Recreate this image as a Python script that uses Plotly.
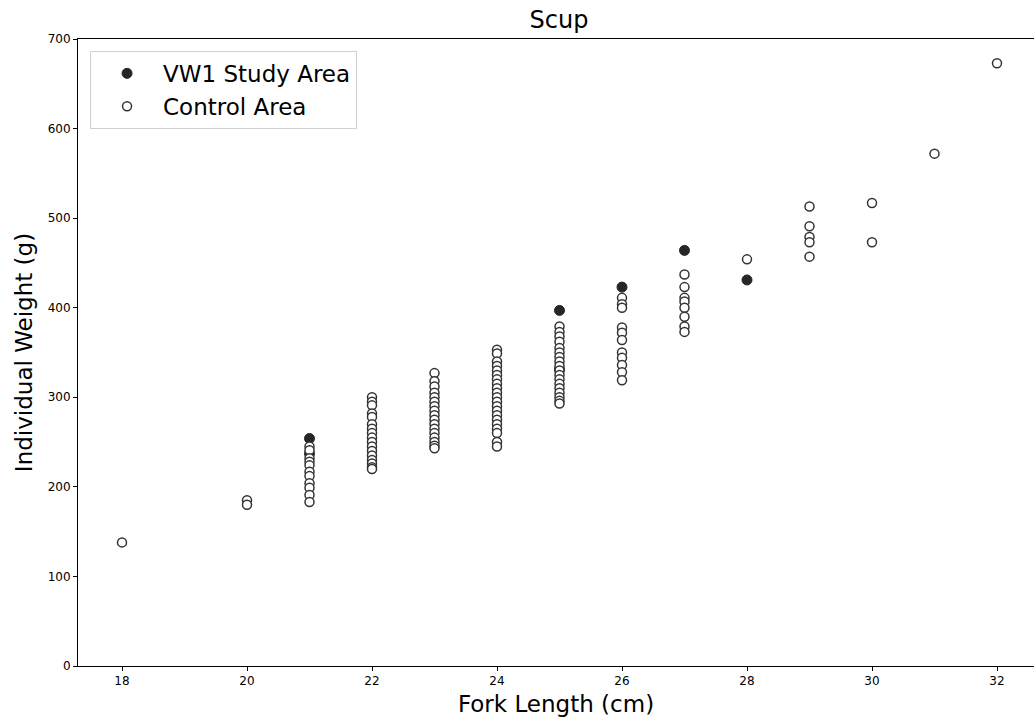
import plotly.graph_objects as go

# VW1 Study Area (filled)
study_len = [21, 21, 25, 25, 26, 27, 28]
study_wt = [254, 237, 397, 331, 423, 464, 431]

# Control Area (open)
ctrl_groups = {
    18: [138],
    20: [185, 180],
    21: [245, 241, 232, 228, 224, 217, 212, 204, 199, 191, 183],
    22: [300, 295, 291, 282, 278, 270, 265, 260, 255, 250, 245, 240, 235, 230, 226, 222, 220],
    23: [327, 318, 312, 305, 300, 295, 290, 285, 280, 275, 270, 265, 260, 255, 250, 246, 243],
    24: [353, 349, 340, 335, 330, 325, 320, 315, 310, 305, 300, 295, 290, 285, 280, 275, 270, 265, 260, 250, 245],
    25: [379, 373, 368, 362, 355, 350, 345, 340, 335, 330, 325, 320, 315, 310, 305, 300, 296, 293],
    26: [411, 404, 400, 378, 372, 364, 350, 344, 336, 328, 319],
    27: [437, 423, 411, 407, 400, 390, 379, 373],
    28: [454],
    29: [513, 491, 479, 473, 457],
    30: [517, 473],
    31: [572],
    32: [673],
}
ctrl_len = [k for k, v in ctrl_groups.items() for _ in v]
ctrl_wt = [w for v in ctrl_groups.values() for w in v]

x_ticks = [18, 20, 22, 24, 26, 28, 30, 32]
y_ticks = [0, 100, 200, 300, 400, 500, 600, 700]

font = "DejaVu Sans"

fig = go.Figure()
fig.add_trace(go.Scatter(
    x=study_len, y=study_wt, mode="markers", name="VW1 Study Area",
    marker=dict(size=10, color="#262626", line=dict(color="#262626", width=1)),
))
fig.add_trace(go.Scatter(
    x=ctrl_len, y=ctrl_wt, mode="markers", name="Control Area",
    marker=dict(size=9, color="white", line=dict(color="#333333", width=1.5)),
))

fig.update_layout(
    width=1034, height=722,
    margin=dict(l=78, r=0, t=39, b=56),
    paper_bgcolor="white", plot_bgcolor="white",
    font=dict(family=font, color="black", size=12),
    title=dict(text="Scup", x=(559) / 1034, xanchor="center", y=1 - 20 / 722, yanchor="middle",
               font=dict(size=24, family=font, color="black")),
    legend=dict(x=0.0126, y=0.981, xanchor="left", yanchor="top",
                bordercolor="#d0d0d0", borderwidth=1, bgcolor="white",
                font=dict(size=23, family=font, color="black"),
                itemwidth=62, tracegroupgap=0),
    xaxis=dict(range=[17.296, 32.592], tickvals=x_ticks, ticktext=[str(t) for t in x_ticks],
               showline=True, linecolor="black", linewidth=1, mirror=True,
               ticks="outside", ticklen=4, tickcolor="black", showgrid=False, zeroline=False,
               tickfont=dict(size=12),
               title=dict(text="Fork Length (cm)", font=dict(size=23, family=font), standoff=8)),
    yaxis=dict(range=[0, 700], tickvals=y_ticks, ticktext=[str(t) for t in y_ticks],
               showline=True, linecolor="black", linewidth=1, mirror=False,
               ticks="outside", ticklen=4, tickcolor="black", showgrid=False, zeroline=False,
               tickfont=dict(size=12),
               title=dict(text="Individual Weight (g)", font=dict(size=23, family=font), standoff=8)),
)

fig.write_html("out.html")
